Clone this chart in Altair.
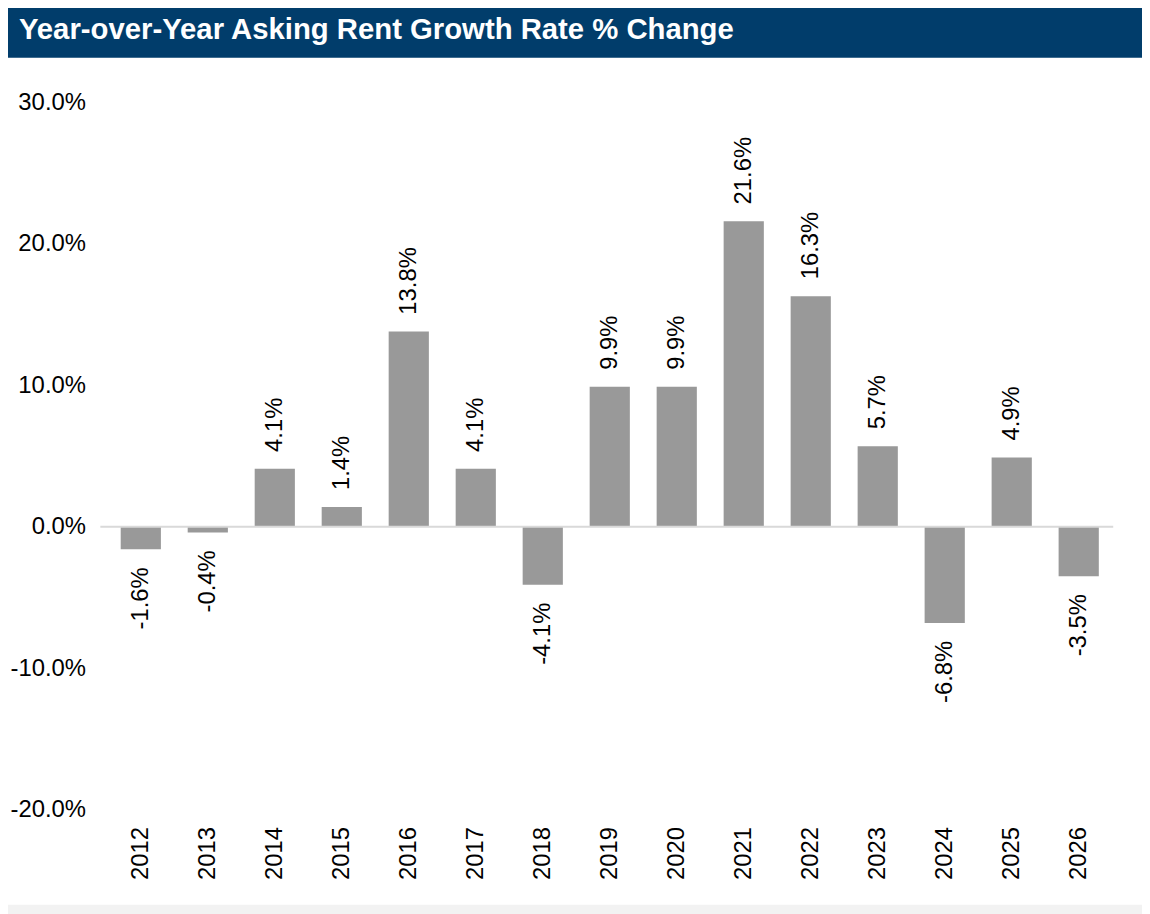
import altair as alt
import pandas as pd

years = ["2012", "2013", "2014", "2015", "2016", "2017", "2018", "2019",
         "2020", "2021", "2022", "2023", "2024", "2025", "2026"]
growth = [-1.6, -0.4, 4.1, 1.4, 13.8, 4.1, -4.1, 9.9, 9.9, 21.6, 16.3, 5.7, -6.8, 4.9, -3.5]
y_ticks = [-20, -10, 0, 10, 20, 30]
title_text = "Year-over-Year Asking Rent Growth Rate % Change"

df = pd.DataFrame({"year": years, "growth": growth})
df["label"] = [f"{v:.1f}%" for v in growth]
one = pd.DataFrame({"k": [0]})

FONT = "Liberation Sans"
W, H = 1012, 712
FS = 24

x_enc = alt.X("year:N", sort=years,
              scale=alt.Scale(paddingInner=0.4, paddingOuter=0.2),
              axis=alt.Axis(title=None, labelAngle=270, labelFontSize=FS,
                            labelFont=FONT, labelColor="#000000", labelPadding=17,
                            ticks=False, domain=False))
y_enc = alt.Y("growth:Q", scale=alt.Scale(domain=[-20, 30], nice=False),
              axis=alt.Axis(title=None, values=y_ticks, grid=False, ticks=False,
                            domain=False, labelFontSize=FS, labelFont=FONT,
                            labelColor="#000000", labelPadding=22,
                            labelExpr="(datum.value < 0 ? '-' : '') + format(abs(datum.value), '.1f') + '%'"))

header = alt.Chart(one).mark_rect(color="#013d6b").encode(
    x=alt.value(-108), x2=alt.value(1050), y=alt.value(-100), y2=alt.value(-45))
header_text = alt.Chart(one).mark_text(
    text=title_text, font=FONT, fontSize=29.5, fontWeight="bold", color="#ffffff",
    align="left", baseline="alphabetic").encode(x=alt.value(-89), y=alt.value(-64))
footer = alt.Chart(one).mark_rect(color="#f2f2f2").encode(
    x=alt.value(-108), x2=alt.value(1050), y=alt.value(808), y2=alt.value(830))

bars = alt.Chart(df).mark_bar(color="#999999").encode(x=x_enc, y=y_enc)

zero = alt.Chart(one).mark_rule(color="#d9d9d9", strokeWidth=2).encode(
    y=alt.datum(0), x=alt.value(-7), x2=alt.value(1013))

pos_labels = alt.Chart(df).transform_filter("datum.growth >= 0").mark_text(
    angle=270, align="left", baseline="middle", dx=17, font=FONT, fontSize=FS,
    color="#000000").encode(x=alt.X("year:N", sort=years), y="growth:Q", text="label:N")
neg_labels = alt.Chart(df).transform_filter("datum.growth < 0").mark_text(
    angle=270, align="right", baseline="middle", dx=-18, font=FONT, fontSize=FS,
    color="#000000").encode(x=alt.X("year:N", sort=years), y="growth:Q", text="label:N")

chart = alt.layer(bars, header, header_text, footer, zero, pos_labels, neg_labels).properties(
    width=W, height=H,
    autosize=alt.AutoSizeParams(type="none"),
    padding={"left": 100, "top": 92, "right": 30, "bottom": 102},
    background="#ffffff",
).configure_view(stroke=None)

chart.save("out.html", embed_options={"renderer": "svg", "actions": False})
